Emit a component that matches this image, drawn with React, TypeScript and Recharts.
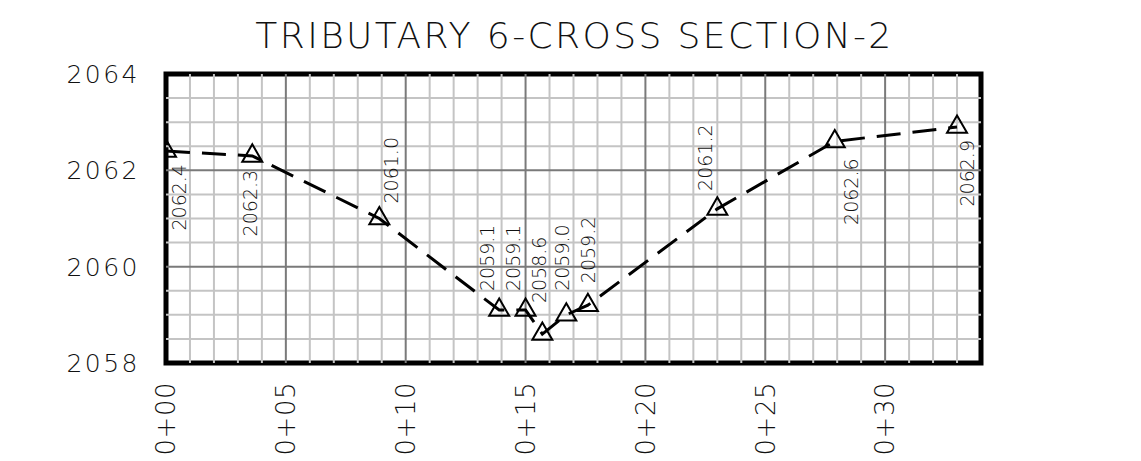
import React from 'react';
import {
  LineChart,
  Line,
  XAxis,
  YAxis,
  ReferenceLine,
  ReferenceArea,
  LabelList,
} from 'recharts';

// survey shots along the section (station in ft, elevation in ft)
const stations = [0, 3.6, 8.9, 13.9, 15.0, 15.7, 16.7, 17.6, 23.0, 27.9, 33.0];
const elevations = [2062.4, 2062.3, 2061.0, 2059.1, 2059.1, 2058.6, 2059.0, 2059.2, 2061.2, 2062.6, 2062.9];

const stationTicks = [0, 5, 10, 15, 20, 25, 30];
const elevationTicks = [2058, 2060, 2062, 2064];

const data = stations.map((s, i) => ({ station: s, elev: elevations[i] }));

// grid lines
const minorX: number[] = [];
for (let i = 1; i < 34; i++) if (i % 5 !== 0) minorX.push(i);
const minorY: number[] = [];
for (let v = 2058.5; v < 2064; v += 0.5) if (v % 2 !== 0) minorY.push(v);
const majorX = [5, 10, 15, 20, 25, 30];
const majorY = [2060, 2062];

// where each elevation label sits relative to its point
const LABEL_LAYOUT: [number, number, 'up' | 'down'][] = [
  [13, 13, 'down'],
  [-2, 14, 'down'],
  [12, -15, 'up'],
  [-12, -19, 'up'],
  [-12, -19, 'up'],
  [-3, -31, 'up'],
  [-4, -24, 'up'],
  [0, -22, 'up'],
  [-12, -18, 'up'],
  [16, 17, 'down'],
  [10, 13, 'down'],
];

const FONT = '"DejaVu Sans", sans-serif';

const fmtStation = (v: number) => `0+${String(v).padStart(2, '0')}`;

const Triangle = (props: any) => {
  const { cx, cy } = props;
  if (cx == null || cy == null) return null;
  const s = 20;
  const h = (s * Math.sqrt(3)) / 2;
  const pts = `${cx},${cy - (2 * h) / 3} ${cx - s / 2},${cy + h / 3} ${cx + s / 2},${cy + h / 3}`;
  return <polygon points={pts} fill="none" stroke="#000" strokeWidth={2} />;
};

const StationTick = (props: any) => {
  const { x, y, payload } = props;
  return (
    <text
      x={x}
      y={y}
      transform={`rotate(-90 ${x} ${y})`}
      textAnchor="end"
      dy="0.36em"
      fontFamily={FONT}
      fontWeight={200}
      fontSize={26}
      letterSpacing={0.5}
      fill="#111"
    >
      {fmtStation(payload.value)}
    </text>
  );
};

const ElevLabel = (props: any) => {
  const { x, y, value, index } = props;
  const [dx, dy, dir] = LABEL_LAYOUT[index] || [0, -15, 'up'];
  const lx = x + dx;
  const ly = y + dy;
  return (
    <text
      x={lx}
      y={ly}
      transform={`rotate(-90 ${lx} ${ly})`}
      textAnchor={dir === 'up' ? 'start' : 'end'}
      dy="0.36em"
      fontFamily={FONT}
      fontWeight={200}
      fontSize={19}
      fill="#111"
    >
      {Number(value).toFixed(1)}
    </text>
  );
};

const axisTick = { fontFamily: FONT, fontWeight: 200, fontSize: 25, fill: '#111', letterSpacing: 2.5 };

const App = () => {
  return (
    <div style={{ position: 'relative', width: 1125, height: 453 }}>
      <div
        style={{
          position: 'absolute',
          top: 8,
          left: 0,
          width: 1133,
          textAlign: 'center',
          fontFamily: FONT,
          fontWeight: 200,
          fontSize: 36,
          lineHeight: '40px',
          color: '#111',
          letterSpacing: 2.4,
        }}
      >
        TRIBUTARY 6-CROSS SECTION-2
      </div>
      <LineChart
        width={1125}
        height={453}
        data={data}
        margin={{ top: 66, right: 82, bottom: 18, left: 88 }}
      >
        <XAxis
          dataKey="station"
          type="number"
          domain={[0, 34]}
          ticks={stationTicks}
          interval={0}
          allowDataOverflow
          axisLine={false}
          tickLine={false}
          tickSize={0}
          tickMargin={19}
          height={80}
          tick={<StationTick />}
        />
        <YAxis
          yAxisId="left"
          type="number"
          domain={[2058, 2064]}
          ticks={elevationTicks}
          interval={0}
          axisLine={false}
          tickLine={false}
          tickSize={0}
          tickMargin={26}
          width={70}
          tick={axisTick}
        />
        <YAxis
          yAxisId="right"
          orientation="right"
          type="number"
          domain={[2058, 2064]}
          ticks={elevationTicks}
          interval={0}
          axisLine={false}
          tickLine={false}
          tickSize={0}
          tickMargin={21}
          width={70}
          tick={axisTick}
        />
        {minorX.map((v) => (
          <ReferenceLine key={`mx${v}`} x={v} yAxisId="left" stroke="#c4c4c4" strokeWidth={2} />
        ))}
        {minorY.map((v) => (
          <ReferenceLine key={`my${v}`} y={v} yAxisId="left" stroke="#c4c4c4" strokeWidth={2} />
        ))}
        {majorX.map((v) => (
          <ReferenceLine key={`Mx${v}`} x={v} yAxisId="left" stroke="#7a7a7a" strokeWidth={2} />
        ))}
        {majorY.map((v) => (
          <ReferenceLine key={`My${v}`} y={v} yAxisId="left" stroke="#7a7a7a" strokeWidth={2} />
        ))}
        <ReferenceArea
          yAxisId="left"
          x1={0}
          x2={34}
          y1={2058}
          y2={2064}
          fill="none"
          fillOpacity={0}
          stroke="#000"
          strokeWidth={5}
          ifOverflow="visible"
        />
        <Line
          yAxisId="left"
          type="linear"
          dataKey="elev"
          stroke="#000"
          strokeWidth={3}
          strokeDasharray="24 12"
          dot={<Triangle />}
          activeDot={false}
          isAnimationActive={false}
        >
          <LabelList dataKey="elev" content={<ElevLabel />} />
        </Line>
      </LineChart>
    </div>
  );
};

export default App;
